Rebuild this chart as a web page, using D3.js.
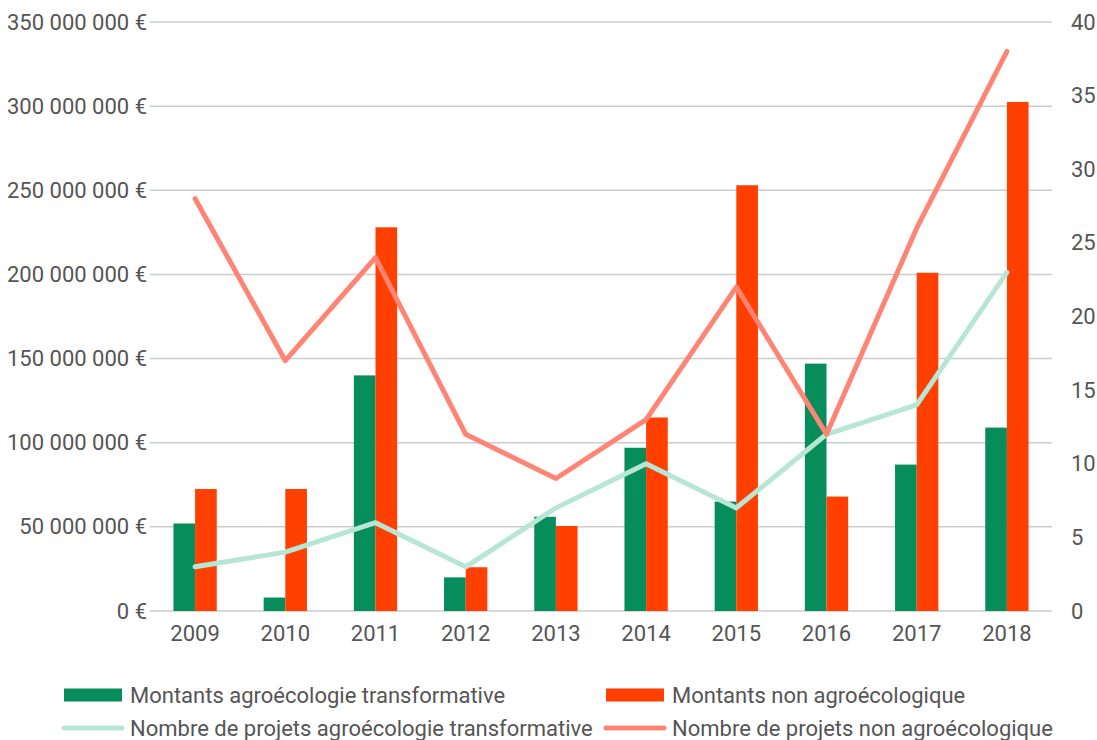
<!DOCTYPE html>
<html>
<head>
<meta charset="utf-8">
<script src="https://cdn.jsdelivr.net/npm/d3@7"></script>
<style>
  body { margin: 0; background: #fff; }
  svg text { font-family: Roboto, sans-serif; fill: #555; }
</style>
</head>
<body>
<div class="chart"></div>
<script>
var years = ['2009', '2010', '2011', '2012', '2013', '2014', '2015', '2016', '2017', '2018'];
var montantsAgro = [52e6, 8e6, 140e6, 20e6, 56e6, 97e6, 65e6, 147e6, 87e6, 109e6];
var montantsNon = [72.5e6, 72.5e6, 228e6, 26e6, 50.5e6, 115e6, 253e6, 68e6, 201e6, 302.5e6];
var projetsAgro = [3, 4, 6, 3, 7, 10, 7, 12, 14, 23];
var projetsNon = [28, 17, 24, 12, 9, 13, 22, 12, 26, 38];
var leftTicks = [0, 50e6, 100e6, 150e6, 200e6, 250e6, 300e6, 350e6];
var rightTicks = [0, 5, 10, 15, 20, 25, 30, 35, 40];

var svgWidth = 1097;
var svgHeight = 740;
var margin = {top: 22, right: 45, bottom: 129, left: 150};
var width = svgWidth - margin.left - margin.right;
var height = svgHeight - margin.top - margin.bottom;
var fontSize = 22;

var colGreen = '#078c5c', colOrange = '#ff4000', colSalmon = '#ff8474', colMint = '#b8e6d5';

var svg = d3.select('.chart').append('svg')
  .attr('width', svgWidth)
  .attr('height', svgHeight);

var chart = svg.append('g')
  .attr('transform', 'translate(' + margin.left + ',' + margin.top + ')');

var x = d3.scaleBand().domain(years).range([0, width]);
var yLeft = d3.scaleLinear().domain([0, 350e6]).range([height, 0]);
var yRight = d3.scaleLinear().domain([0, 40]).range([height, 0]);

var fmt = function(d) { return d3.format(',')(d).replace(/,/g, ' ') + ' €'; };

// grid lines
chart.append('g').selectAll('line').data(leftTicks).enter().append('line')
  .attr('x1', 0).attr('x2', width)
  .attr('y1', function(d) { return yLeft(d); })
  .attr('y2', function(d) { return yLeft(d); })
  .attr('stroke', '#cccccc').attr('stroke-width', 1.5);

// left axis
var leftAxis = d3.axisLeft(yLeft).tickValues(leftTicks).tickFormat(fmt).tickSize(0).tickPadding(3);
var gl = chart.append('g').call(leftAxis);
gl.select('.domain').remove();
gl.selectAll('text').attr('font-size', fontSize).style('fill', '#555');

// right axis
var rightAxis = d3.axisRight(yRight).tickValues(rightTicks).tickSize(0).tickPadding(19);
var gr = chart.append('g').attr('transform', 'translate(' + width + ',0)').call(rightAxis);
gr.select('.domain').remove();
gr.selectAll('text').attr('font-size', fontSize).style('fill', '#555');

// bottom axis
var bottomAxis = d3.axisBottom(x).tickSize(0).tickPadding(14);
var gb = chart.append('g').attr('transform', 'translate(0,' + height + ')').call(bottomAxis);
gb.select('.domain').remove();
gb.selectAll('text').attr('font-size', fontSize).style('fill', '#555');

var barW = x.bandwidth() * 0.24;

chart.append('g').selectAll('rect').data(montantsAgro).enter().append('rect')
  .attr('x', function(d, i) { return x(years[i]) + x.bandwidth() / 2 - barW; })
  .attr('y', function(d) { return yLeft(d); })
  .attr('width', barW)
  .attr('height', function(d) { return height - yLeft(d); })
  .attr('fill', colGreen);

chart.append('g').selectAll('rect').data(montantsNon).enter().append('rect')
  .attr('x', function(d, i) { return x(years[i]) + x.bandwidth() / 2; })
  .attr('y', function(d) { return yLeft(d); })
  .attr('width', barW)
  .attr('height', function(d) { return height - yLeft(d); })
  .attr('fill', colOrange);

var line = d3.line()
  .x(function(d, i) { return x(years[i]) + x.bandwidth() / 2; })
  .y(function(d) { return yRight(d); });

chart.append('path').datum(projetsAgro)
  .attr('d', line).attr('fill', 'none')
  .attr('stroke', colMint).attr('stroke-width', 5)
  .attr('stroke-linecap', 'round').attr('stroke-linejoin', 'round');

chart.append('path').datum(projetsNon)
  .attr('d', line).attr('fill', 'none')
  .attr('stroke', colSalmon).attr('stroke-width', 5)
  .attr('stroke-linecap', 'round').attr('stroke-linejoin', 'round');

// legend
var legend = [
  {label: 'Montants agroécologie transformative', color: colGreen, type: 'rect', x: 64, y: 695},
  {label: 'Montants non agroécologique', color: colOrange, type: 'rect', x: 606, y: 695},
  {label: 'Nombre de projets agroécologie transformative', color: colMint, type: 'line', x: 64, y: 728},
  {label: 'Nombre de projets non agroécologique', color: colSalmon, type: 'line', x: 606, y: 728}
];

var lg = svg.append('g').selectAll('g').data(legend).enter().append('g')
  .attr('transform', function(d) { return 'translate(' + d.x + ',' + d.y + ')'; });

lg.filter(function(d) { return d.type === 'rect'; }).append('rect')
  .attr('x', 0).attr('y', -6.5).attr('width', 58).attr('height', 13)
  .attr('fill', function(d) { return d.color; });

lg.filter(function(d) { return d.type === 'line'; }).append('line')
  .attr('x1', 0).attr('x2', 58).attr('y1', 0).attr('y2', 0)
  .attr('stroke', function(d) { return d.color; })
  .attr('stroke-width', 5).attr('stroke-linecap', 'round');

lg.append('text')
  .attr('x', 66).attr('dy', '0.35em')
  .attr('font-size', fontSize)
  .text(function(d) { return d.label; });
</script>
</body>
</html>
